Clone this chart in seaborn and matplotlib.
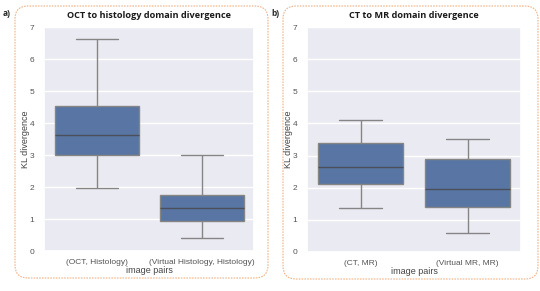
import numpy as np
import pandas as pd
import matplotlib
matplotlib.use("Agg")
import matplotlib.pyplot as plt
from matplotlib.patches import FancyBboxPatch
import seaborn as sns

# Five-number summaries (min, Q1, median, Q3, max)
oct_hist = [1.96, 3.00, 3.63, 4.53, 6.62]
virt_hist = [0.40, 0.94, 1.33, 1.76, 2.99]
ct_mr = [1.38, 2.11, 2.64, 3.40, 4.10]
virt_mr = [0.58, 1.41, 1.96, 2.89, 3.51]

left_cats = ["(OCT, Histology)", "(Virtual Histology, Histology)"]
right_cats = ["(CT, MR)", "(Virtual MR, MR)"]
titles = ["OCT to histology domain divergence", "CT to MR domain divergence"]
panel_labels = ["a)", "b)"]
yticks = [0, 1, 2, 3, 4, 5, 6, 7]

sns.set_theme(style="darkgrid")
plt.rcParams["font.family"] = ["Liberation Sans", "DejaVu Sans"]

W, H = 540, 291
fig = plt.figure(figsize=(W / 100, H / 100), dpi=100)

def frac(x0, y0, x1, y1):
    return [x0 / W, 1 - y1 / H, (x1 - x0) / W, (y1 - y0) / H]

axL = fig.add_axes(frac(44, 27, 254, 251))
axR = fig.add_axes(frac(307, 27, 521, 252))

dfL = pd.DataFrame({"pair": [left_cats[0]] * 5 + [left_cats[1]] * 5,
                    "kl": oct_hist + virt_hist})
dfR = pd.DataFrame({"pair": [right_cats[0]] * 5 + [right_cats[1]] * 5,
                    "kl": ct_mr + virt_mr})

lc = "#858585"
for ax, df, cats, title, cx in [(axL, dfL, left_cats, titles[0], 149),
                                (axR, dfR, right_cats, titles[1], 414)]:
    sns.boxplot(data=df, x="pair", y="kl", order=cats, whis=(0, 100),
                ax=ax, linewidth=1.0, linecolor=lc,
                medianprops=dict(color="#4a4f5a", linewidth=1.0))
    ax.set_ylim(0, 7)
    ax.set_yticks(yticks)
    ax.tick_params(labelsize=6, colors="#555555")
    ax.tick_params(axis="x", pad=0)
    ax.tick_params(axis="y", pad=1)
    ax.set_xlabel("image pairs", fontsize=6.5, labelpad=0, color="#444444")
    ax.set_ylabel("KL divergence", fontsize=6.5, labelpad=0, color="#444444")
    fig.text(cx / W, 1 - 16 / H, title, ha="center", va="center",
             fontsize=6.6, fontweight="bold", family="Open Sans", color="#1a1a1a")

fig.text(3 / W, 1 - 14 / H, panel_labels[0], fontsize=6, fontweight="bold",
         va="center", family="Open Sans")
fig.text(271 / W, 1 - 14 / H, panel_labels[1], fontsize=6, fontweight="bold",
         va="center", family="Open Sans")

# Rounded dashed panel borders (in inches)
for (x0, y0, x1, y1) in [(15, 6, 268, 278), (283, 6, 538, 279)]:
    patch = FancyBboxPatch((x0 / 100, (H - y1) / 100), (x1 - x0) / 100, (y1 - y0) / 100,
                           boxstyle="round,pad=0,rounding_size=0.13",
                           transform=fig.dpi_scale_trans, fill=False,
                           edgecolor="#f2b48a", linewidth=0.8,
                           linestyle=(0, (1.5, 1)), zorder=-1)
    fig.add_artist(patch)

fig.savefig("out.png", dpi=100)
